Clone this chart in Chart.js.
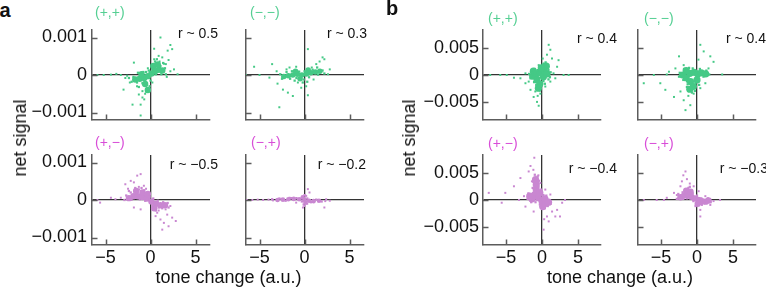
<!DOCTYPE html>
<html>
<head>
<meta charset="utf-8">
<script src="https://cdn.jsdelivr.net/npm/chart.js@4.4.1/dist/chart.umd.min.js"></script>
<style>
  html, body { margin: 0; padding: 0; background: #fff; overflow: hidden; }
  #fig { position: relative; width: 766px; height: 289px; font-family: "Liberation Sans", Arial, Helvetica, sans-serif; color: #111; }
  #fig canvas { position: absolute; }
  .t { position: absolute; line-height: 1; white-space: nowrap; }
</style>
</head>
<body>
<div id="fig"></div>
<script>
// ===== data (x = tone change, y = net signal) =====
// core = dense centre of each cloud, fringe = points around it, dots = outliers
// panel a
const aXTicks = [-5, 0, 5];
const aYTicks = [-0.001, 0, 0.001];
const aPP_core = [[-1.7,-0.00012],[-1.2,-0.0001],[-0.7,-0.00008],[-0.3,-0.00003],[0.1,0.00004],[0.5,0.0001],[0.9,0.00014],[1.3,0.00012],[0.3,0.00024],[0.8,0.00028],[-0.6,-0.00024],[-0.3,-0.0004],[-1.0,0.00002]];
const aPP_fringe = [[-2.1,-0.00018],[-1.9,-0.00005],[-1.5,-0.0002],[-1.4,0.00006],[-0.9,-0.00022],[-0.8,0.00008],[-0.5,0.00008],[-0.2,0.00012],[0.0,-0.00015],[0.2,0.00016],[0.6,0.00002],[0.5,0.00036],[1.1,0.00024],[1.2,0.00002],[1.6,0.00018],[1.4,0.00032],[-0.1,-0.0003],[-0.45,-0.00045],[-1.3,-0.00032],[0.7,0.00042],[1.7,0.00002],[-2.4,-0.00008]];
const aPP_dots = [[1.1,0.001],[2.2,0.0008],[2.4,0.00069],[1.9,0.00065],[0.4,0.0007],[1.3,0.00047],[0.4,0.00042],[0.9,0.00051],[1.7,0.00029],[2.2,0.0001],[1.5,0.0003],[0.6,0.00032],[1.0,0.00036],[2.0,0.0004],[2.6,0.00015],[3.0,0.00002],[1.8,-0.00005],[-1.85,0.00033],[-0.3,0.00018],[-0.9,-0.00043],[-1.3,-0.00052],[-1.1,-0.00079],[-2.0,-0.00079],[-1.1,-0.00108],[-3.0,-0.00039],[-1.5,-0.0003],[-0.7,-0.00065],[-0.4,-0.00035],[-2.3,-0.0002],[-1.7,-0.00015],[0.2,-0.0002],[-2.8,-0.00008],[-5.9,0],[-5.2,0],[-4.4,0.00001],[-3.8,0.00003],[-3.3,0],[-2.6,-0.00002],[-0.6,-0.0005],[-0.9,-0.0006]];
const aMM_core = [[-2.3,-0.00004],[-1.8,-0.00002],[-1.3,0],[-0.8,0.00002],[-0.3,0],[0.2,0.00003],[0.7,0.00006],[1.2,0.00008],[1.7,0.0001],[-0.5,-0.0001],[0.4,0.00013],[-1.0,0.0001]];
const aMM_fringe = [[-2.7,0.00002],[-2.5,-0.0001],[-2.0,0.00008],[-1.6,-0.0001],[-1.4,0.0001],[-0.9,-0.00008],[-0.6,0.00009],[-0.1,-0.00012],[0.0,0.0001],[0.5,-0.00006],[0.9,0.00014],[1.4,0.0002],[1.5,0.00001],[2.0,0.00012],[2.2,0.00004],[-0.2,-0.0002],[0.3,-0.00018],[-1.1,-0.00015]];
const aMM_dots = [[0.37,0.00069],[2.0,0.00047],[2.2,0.00042],[1.67,0.00036],[1.3,0.00029],[-0.93,0.00022],[-1.67,0.0002],[-3.6,0.00029],[-5.6,0.00022],[-3.1,0.0001],[2.8,0.00015],[2.6,0.00002],[-6.5,0],[-5.0,0],[-3.9,-0.00007],[-3.0,-0.00023],[-2.4,-0.00039],[-1.85,-0.00047],[-1.3,-0.00056],[-2.8,-0.00086],[0.37,-0.00054],[-0.37,-0.00034],[0.18,-0.0003],[-0.74,-0.0002],[1.0,-0.00012],[-2.0,0.00015],[0.8,0.0002]];
const aPM_core = [[-2.4,0.00005],[-1.9,0.0001],[-1.4,0.0001],[-0.9,0.00008],[-0.4,0.00004],[0.1,-0.00004],[0.6,-0.0001],[1.1,-0.00014],[1.6,-0.00014],[-1.6,0.00024],[-0.9,0.0002],[0.4,-0.00022],[-0.3,0.00016]];
const aPM_fringe = [[-2.9,0.0],[-2.7,0.00012],[-2.2,0.0002],[-2.1,0.00001],[-1.7,0.00032],[-1.3,0.00028],[-1.2,0.00002],[-0.7,0.00026],[-0.6,-0.00002],[-0.1,0.00008],[0.2,-0.00014],[0.3,0.00004],[0.8,-0.00002],[0.9,-0.0002],[1.3,-0.00022],[1.4,-0.00006],[1.9,-0.00008],[2.0,-0.0002],[0.6,-0.00028],[-1.0,0.00032],[-2.4,0.00024]];
const aPM_dots = [[-2.2,0.00051],[-1.48,0.00065],[-1.1,0.00069],[-2.8,0.00042],[-1.85,0.00047],[-0.74,0.00038],[-1.3,0.00035],[-2.5,0.0003],[-5.6,-0.00007],[-4.4,0.00006],[-3.9,0.00002],[-3.3,0.00006],[-5.9,0],[1.1,-0.00052],[1.48,-0.00061],[1.3,-0.00079],[2.0,-0.0007],[2.8,-0.00056],[2.4,-0.00047],[1.85,-0.00039],[0.74,-0.00034],[0.56,-0.00043],[-1.85,-0.0002],[-1.1,-0.00025],[1.67,-0.00025],[2.2,-0.00016],[0.9,-0.00028],[-0.5,0.0003]];
const aMP_core = [[-3.0,0],[-2.4,0.00001],[-1.8,0.00002],[-1.2,0.00003],[-0.6,0.00002],[0,0],[0.5,-0.00002],[1.0,-0.00003],[1.6,-0.00002],[-0.2,0.00007],[0.1,-0.00007]];
const aMP_fringe = [[-3.6,0.00002],[-2.8,0.00004],[-2.1,-0.00002],[-1.5,0.00005],[-0.9,0.00005],[-0.3,-0.00004],[0.3,0.00004],[0.7,-0.00006],[1.3,0.00001],[1.9,-0.00004],[0.0,0.00013],[-0.1,-0.00012]];
const aMP_dots = [[-6.4,0],[-5.8,0],[-5.2,0.00001],[-4.6,0],[-4.0,0.00001],[-3.5,-0.00001],[2.3,-0.00003],[2.8,-0.00002],[2.2,-0.0002],[0.37,0.00029],[0.55,0.0002],[0.18,0.00011],[-0.18,-0.0002],[0,-0.00016],[-1.67,0.00006],[-0.93,-0.00007],[0.93,-0.00005],[1.67,-0.00003],[2.4,0.00002],[-2.6,0.00003],[0.3,-0.0001]];

// panel b
const bXTicks = [-5, 0, 5];
const bYTicks = [-0.005, 0, 0.005];
const bPP_core = [[-1.3,-0.0002],[-0.8,0.0002],[-0.7,-0.0009],[-0.2,0.0004],[0.3,0.0008],[0.2,-0.0003],[-0.3,-0.0016],[0.6,0.0016],[-0.1,0.0013],[0.7,0.0002],[-0.5,-0.0024],[-1.2,0.0007]];
const bPP_fringe = [[-1.8,0.0002],[-1.6,-0.0006],[-1.1,-0.0013],[-1.0,0.0011],[-0.6,0.0009],[-0.4,-0.0005],[0.1,0.0019],[0.2,-0.0011],[0.5,0.0023],[0.9,0.0009],[1.1,-0.0004],[0.9,-0.0008],[-0.1,-0.002],[-0.8,-0.0018],[-0.3,-0.0028],[0.4,-0.0016],[1.2,0.0005],[-1.4,0.0004]];
const bPP_dots = [[0.93,0.0055],[1.16,0.0046],[0.69,0.0037],[1.39,0.003],[2.3,0.0027],[2.1,0.0015],[3.0,0],[3.7,0],[-3.9,-0.0005],[-4.9,0],[-5.8,0],[-7.2,0],[-3.0,-0.0006],[-2.3,-0.0015],[-1.6,-0.0027],[-1.16,-0.004],[-0.69,-0.0049],[-0.46,-0.0056],[-0.23,-0.0034],[-0.93,-0.003],[-1.85,-0.0012],[0.46,-0.0021],[1.16,-0.0012],[1.6,0.0003],[0.23,0.0021],[-0.46,0.0018],[-2.3,0.0003],[1.85,-0.0006],[-0.6,-0.0038],[0.1,0.003]];
const bMM_core = [[-2.0,0],[-1.5,-0.0005],[-1.0,0.0003],[-0.9,-0.0012],[-0.4,0.0005],[0.1,0.0002],[0.6,0.0004],[1.2,0.0002],[-0.5,-0.0021],[-1.0,-0.0026],[0,-0.0009],[-1.5,0.0008]];
const bMM_fringe = [[-2.5,-0.0003],[-2.4,0.0004],[-1.9,-0.0009],[-1.8,0.0011],[-1.3,-0.0017],[-1.1,0.0013],[-0.6,0.0012],[-0.2,-0.0015],[0.2,-0.0004],[0.4,0.0011],[0.9,-0.0003],[1.3,0.0008],[1.7,0.0001],[-0.3,-0.0029],[-0.7,-0.0032],[-1.4,-0.0022],[0.3,-0.0018]];
const bMM_dots = [[0.46,0.0055],[0.93,0.0043],[1.85,0.0034],[2.3,0.0024],[3.5,0.0001],[-1.85,0.0018],[-2.5,0.0034],[-3.9,0.0006],[-5.1,-0.0015],[-4.4,-0.0027],[-7.4,-0.0015],[-3.2,-0.004],[-1.85,-0.0046],[-1.6,-0.0064],[-0.93,-0.0055],[-0.46,-0.0034],[0.46,-0.0024],[1.16,-0.0015],[-2.3,-0.003],[-6.0,0],[-4.2,0.0001],[-1.4,-0.0012],[1.6,0.0012],[-1.2,-0.0038],[0.2,0.0028],[-3.0,0.0012]];
const bPM_core = [[-1.0,0.001],[-0.5,0.0004],[0,-0.0002],[0.5,-0.0006],[-1.4,0.0002],[-0.8,0.0019],[-0.8,0.0028],[-0.9,0.0037],[-0.3,0.0013],[0.4,0.0002],[-1.7,0.0007],[0.1,-0.0012],[0.9,-0.0004]];
const bPM_fringe = [[-2.0,0.0002],[-1.9,0.0012],[-1.5,-0.0004],[-1.3,0.0022],[-1.2,0.0033],[-0.5,0.0024],[-0.4,0.0035],[-0.6,0.0043],[-1.0,0.0046],[0.2,0.0009],[0.6,0.0008],[0.8,-0.0011],[1.2,-0.0007],[0.4,-0.0015],[-0.3,-0.0008],[-0.9,-0.0004],[-0.1,0.0019]];
const bPM_dots = [[-1.07,0.0077],[-1.6,0.0062],[-1.85,0.0052],[-1.4,0.0034],[-3.0,0.004],[-3.9,0.0025],[-5.1,0.0013],[-7.4,0.0013],[-5.6,-0.0005],[-3.2,0],[-2.3,-0.0012],[-1.16,-0.0021],[0.23,-0.0054],[0.93,-0.0039],[1.85,-0.003],[2.5,-0.003],[2.1,-0.0018],[1.4,-0.0021],[2.8,-0.0005],[3.2,0],[0.69,-0.003],[-0.23,0.0031],[0.46,0.0019],[1.16,0.001],[-2.5,0.0007],[-1.2,0.0055],[-0.5,0.0045],[0.3,-0.0035]];
const bMP_core = [[-2.3,0.0005],[-1.8,0.0008],[-1.3,0.0008],[-0.8,0.0006],[-0.3,0.0003],[0.2,0],[0.7,-0.0002],[1.2,-0.0003],[-1.5,0.0017],[-0.9,0.0015],[0.1,-0.0007],[1.6,-0.0001]];
const bMP_fringe = [[-2.8,0.0002],[-2.6,0.0011],[-2.0,0.0014],[-1.9,0.0002],[-1.2,0.0022],[-1.4,0.0003],[-0.6,0.0012],[-0.5,-0.0002],[0.0,0.0008],[0.5,-0.0007],[0.6,0.0003],[1.0,-0.0006],[1.5,0.0003],[1.9,-0.0004],[-1.0,0.0024],[-0.2,-0.0011]];
const bMP_dots = [[-1.6,0.0052],[-1.9,0.0045],[-1.4,0.0038],[-2.1,0.0034],[-2.3,0.0025],[-0.46,0.0025],[-3.2,0.0013],[-5.6,0],[-4.6,0],[-7.4,0],[-4.2,0.0004],[0.46,-0.0018],[0.46,-0.003],[0.69,-0.0009],[2.3,-0.0002],[3.2,0],[1.85,-0.0009],[1.16,0.0007],[0.23,0.0016],[-1.0,0.003],[-2.8,0.0009],[0.9,-0.0005]];

// ===== styles =====
const FONT = '"Liberation Sans", Arial, Helvetica, sans-serif';
const GREEN = '#45c986', PURPLE = '#c987d1';
const GREEN_T = '#55cf93', MAGENTA_T = '#d84dd8';
const AXIS = '#5c5c5c', ZERO = '#333';
const PAD = 20;

const fmt = v => v === 0 ? '0' : (v < 0 ? '\u2212' : '') + Math.abs(v);
const toXY = arr => arr.map(p => ({ x: p[0], y: p[1] }));

// inward tick marks
const inwardTicks = {
  id: 'inwardTicks',
  afterDraw(chart) {
    const { ctx, chartArea: a, scales: { x, y } } = chart;
    ctx.save();
    ctx.strokeStyle = AXIS;
    ctx.lineWidth = 1.5;
    ctx.beginPath();
    x.ticks.forEach(t => {
      const px = Math.round(x.getPixelForValue(t.value)) + 0.5;
      ctx.moveTo(px, a.bottom);
      ctx.lineTo(px, a.bottom - 5.5);
    });
    y.ticks.forEach(t => {
      const py = Math.round(y.getPixelForValue(t.value)) + 0.5;
      ctx.moveTo(a.left, py);
      ctx.lineTo(a.left + 5.5, py);
    });
    ctx.stroke();
    ctx.restore();
  }
};

const fig = document.getElementById('fig');

function subplot(o) {
  const yw = o.showY ? 64 : PAD;
  const xh = o.showX ? 34 : PAD;
  const cv = document.createElement('canvas');
  cv.width = yw + o.W + PAD;
  cv.height = PAD + o.H + xh;
  cv.style.left = (o.L - yw) + 'px';
  cv.style.top = (o.T - PAD) + 'px';
  fig.appendChild(cv);

  const zeroGrid = c => (c.tick && c.tick.value === 0) ? ZERO : 'rgba(0,0,0,0)';
  new Chart(cv.getContext('2d'), {
    type: 'scatter',
    data: {
      datasets: [
        { data: toXY(o.dots), pointRadius: 1.4, pointStyle: 'rect', backgroundColor: o.color, borderWidth: 0 },
        { data: toXY(o.fringe), pointRadius: 1.6, pointStyle: 'rect', backgroundColor: o.color, borderWidth: 0 },
        { data: toXY(o.core), pointRadius: o.coreR, backgroundColor: o.color, borderWidth: 0 }
      ]
    },
    options: {
      responsive: false,
      animation: false,
      devicePixelRatio: 1,
      events: [],
      layout: { padding: { top: PAD, right: PAD, left: 0, bottom: 0 } },
      plugins: { legend: { display: false }, tooltip: { enabled: false } },
      scales: {
        x: {
          type: 'linear', min: o.xr[0], max: o.xr[1],
          afterBuildTicks: s => { s.ticks = o.xTicks.map(v => ({ value: v })); },
          afterFit: s => { s.height = xh; },
          ticks: { display: o.showX, font: { family: FONT, size: 18 }, color: '#111', padding: 2, callback: fmt, autoSkip: false, maxRotation: 0 },
          grid: { drawTicks: false, lineWidth: 1.3, color: zeroGrid },
          border: { display: true, color: AXIS, width: 1.5 }
        },
        y: {
          type: 'linear', min: o.yr[0], max: o.yr[1],
          afterBuildTicks: s => { s.ticks = o.yTicks.map(v => ({ value: v })); },
          afterFit: s => { s.width = yw; },
          ticks: { display: o.showY, font: { family: FONT, size: 18 }, color: '#111', padding: o.yPad, callback: fmt, autoSkip: false },
          grid: { drawTicks: false, lineWidth: 1.3, color: zeroGrid },
          border: { display: true, color: AXIS, width: 1.5 }
        }
      }
    },
    plugins: [inwardTicks]
  });
}

const aX = [-6.5, 6.6], aY = [-0.0012, 0.0012];
const bX = [-8.2, 8.2], bY = [-0.0082, 0.0082];
const H = 90, W = 118;

subplot({ L: 92,  T: 30,  W, H, xr: aX, yr: aY, xTicks: aXTicks, yTicks: aYTicks, showX: false, showY: true,  yPad: 5, core: aPP_core, fringe: aPP_fringe, dots: aPP_dots, color: GREEN,  coreR: 3.2 });
subplot({ L: 246, T: 30,  W, H, xr: aX, yr: aY, xTicks: aXTicks, yTicks: aYTicks, showX: false, showY: false, yPad: 5, core: aMM_core, fringe: aMM_fringe, dots: aMM_dots, color: GREEN,  coreR: 2.8 });
subplot({ L: 92,  T: 155, W, H, xr: aX, yr: aY, xTicks: aXTicks, yTicks: aYTicks, showX: true,  showY: true,  yPad: 5, core: aPM_core, fringe: aPM_fringe, dots: aPM_dots, color: PURPLE, coreR: 3.2 });
subplot({ L: 246, T: 155, W, H, xr: aX, yr: aY, xTicks: aXTicks, yTicks: aYTicks, showX: true,  showY: false, yPad: 5, core: aMP_core, fringe: aMP_fringe, dots: aMP_dots, color: PURPLE, coreR: 2.3 });
subplot({ L: 483, T: 30,  W, H, xr: bX, yr: bY, xTicks: bXTicks, yTicks: bYTicks, showX: false, showY: true,  yPad: 4, core: bPP_core, fringe: bPP_fringe, dots: bPP_dots, color: GREEN,  coreR: 3.6 });
subplot({ L: 638, T: 30,  W, H, xr: bX, yr: bY, xTicks: bXTicks, yTicks: bYTicks, showX: false, showY: false, yPad: 4, core: bMM_core, fringe: bMM_fringe, dots: bMM_dots, color: GREEN,  coreR: 3.6 });
subplot({ L: 483, T: 155, W, H, xr: bX, yr: bY, xTicks: bXTicks, yTicks: bYTicks, showX: true,  showY: true,  yPad: 4, core: bPM_core, fringe: bPM_fringe, dots: bPM_dots, color: PURPLE, coreR: 3.6 });
subplot({ L: 638, T: 155, W, H, xr: bX, yr: bY, xTicks: bXTicks, yTicks: bYTicks, showX: true,  showY: false, yPad: 4, core: bMP_core, fringe: bMP_fringe, dots: bMP_dots, color: PURPLE, coreR: 3.2 });

// ===== text =====
function label(txt, css) {
  const d = document.createElement('div');
  d.className = 't';
  d.textContent = txt;
  Object.assign(d.style, css);
  fig.appendChild(d);
  return d;
}

label('a', { left: '-0.5px', top: '0px', fontSize: '20px', fontWeight: 'bold' });
label('b', { left: '386px', top: '-2px', fontSize: '20px', fontWeight: 'bold' });

label('(+,+)', { left: '95px',  top: '5px',   fontSize: '14px', color: GREEN_T });
label('(\u2212,\u2212)', { left: '250px', top: '5px',   fontSize: '14px', color: GREEN_T });
label('(+,\u2212)', { left: '95px',  top: '135px', fontSize: '14px', color: MAGENTA_T });
label('(\u2212,+)', { left: '251px', top: '135px', fontSize: '14px', color: MAGENTA_T });
label('(+,+)', { left: '488px', top: '11px',  fontSize: '14px', color: GREEN_T });
label('(\u2212,\u2212)', { left: '644px', top: '11px',  fontSize: '14px', color: GREEN_T });
label('(+,\u2212)', { left: '488px', top: '136px', fontSize: '14px', color: MAGENTA_T });
label('(\u2212,+)', { left: '644px', top: '136px', fontSize: '14px', color: MAGENTA_T });

label('r ~ 0.5',        { right: (766 - 218) + 'px', top: '25.5px', fontSize: '14px' });
label('r ~ 0.3',        { right: (766 - 367) + 'px', top: '25.5px', fontSize: '14px' });
label('r ~ \u22120.5',  { right: (766 - 218) + 'px', top: '157px',  fontSize: '14px' });
label('r ~ \u22120.2',  { right: (766 - 366) + 'px', top: '157px',  fontSize: '14px' });
label('r ~ 0.4',        { right: (766 - 617) + 'px', top: '30.5px', fontSize: '14px' });
label('r ~ 0.4',        { right: (766 - 766) + 'px', top: '30.5px', fontSize: '14px' });
label('r ~ \u22120.4',  { right: (766 - 617) + 'px', top: '160.5px', fontSize: '14px' });
label('r ~ \u22120.3',  { right: (766 - 768) + 'px', top: '160.5px', fontSize: '14px' });

const yt = { fontSize: '18px', transform: 'translate(-50%, -50%) rotate(-90deg)' };
label('net signal', Object.assign({ left: '19.5px', top: '137.5px' }, yt));
label('net signal', Object.assign({ left: '409px', top: '137.5px' }, yt));
label('tone change (a.u.)', { left: '228.5px', top: '268px', fontSize: '18px', transform: 'translateX(-50%)' });
label('tone change (a.u.)', { left: '620px', top: '268px', fontSize: '18px', transform: 'translateX(-50%)' });
</script>
</body>
</html>
